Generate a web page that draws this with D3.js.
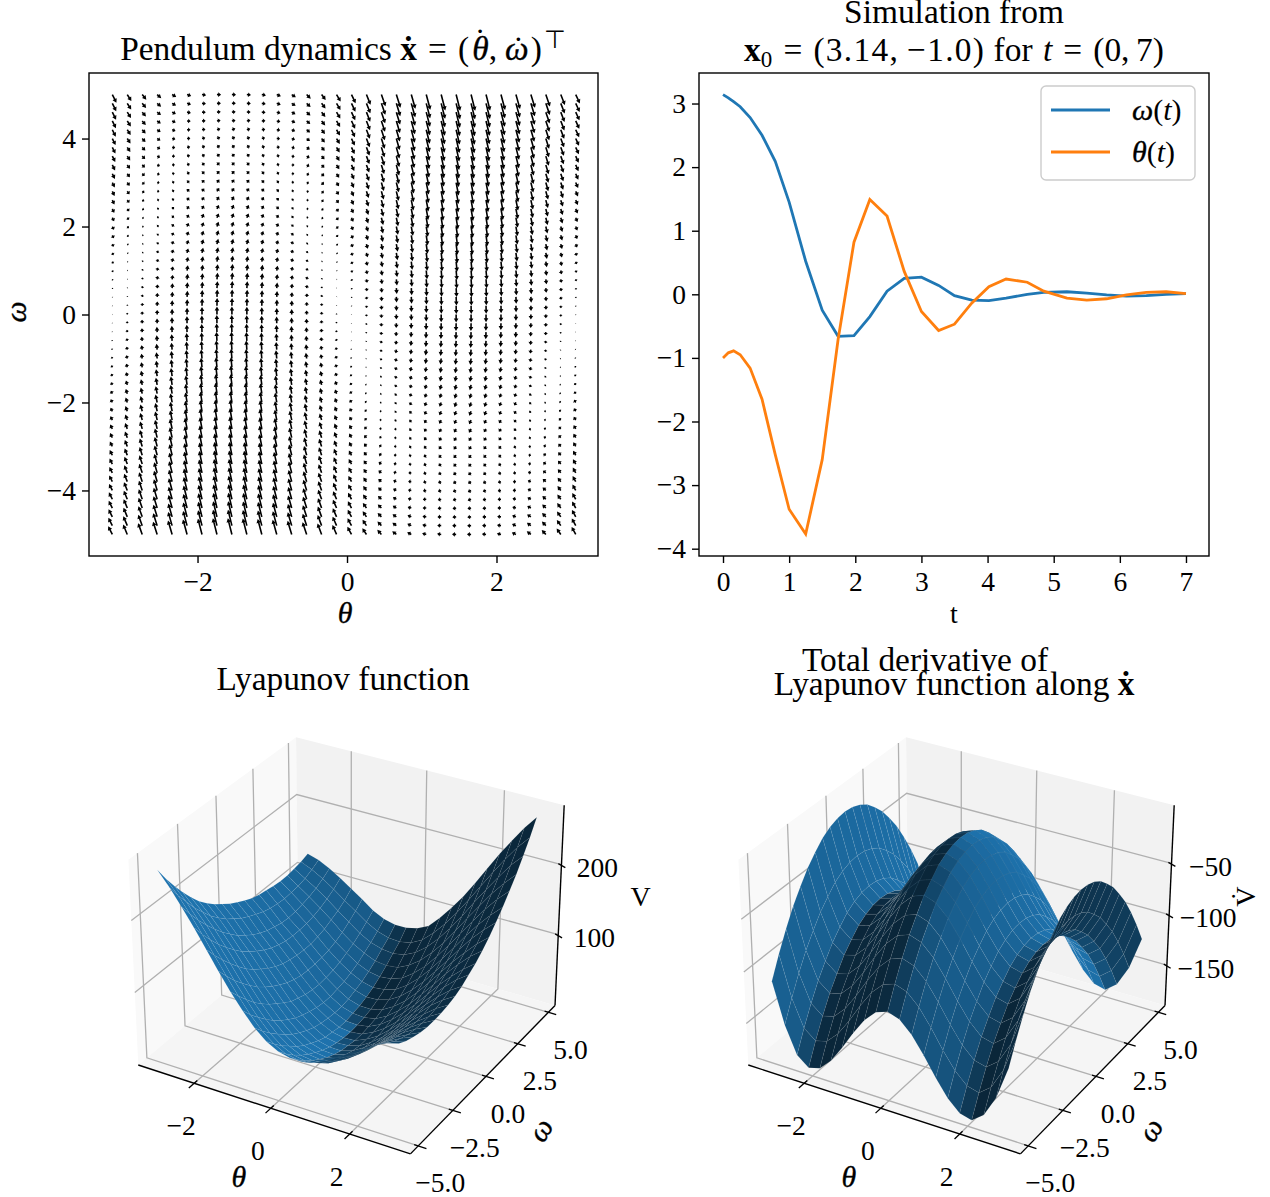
<!DOCTYPE html>
<html>
<head>
<meta charset="utf-8">
<script src="https://cdn.jsdelivr.net/npm/d3@7"></script>
<style>
    html, body { margin: 0; padding: 0; background: #fff; }
    svg { display: block; }
    text { font-family: "Liberation Serif", serif; fill: #000; }
    .axis text { font-size: 27.5px; font-family: "Liberation Serif", serif; }
    .axis path, .axis line { stroke: #000; stroke-width: 1.4px; }
    .math { font-style: italic; stroke: #000; stroke-width: 0.35px; }
</style>
</head>
<body>
<svg width="1270" height="1197"></svg>
<script>
// quiver grid
var quiverTheta = [-3.14,-2.94,-2.74,-2.54,-2.34,-2.14,-1.94,-1.74,-1.54,-1.34,-1.14,-0.94,-0.74,-0.54,-0.34,-0.14,0.06,0.26,0.46,0.66,0.86,1.06,1.26,1.46,1.66,1.86,2.06,2.26,2.46,2.66,2.86,3.06];
var quiverOmega = [5,4.8,4.6,4.4,4.2,4,3.8,3.6,3.4,3.2,3,2.8,2.6,2.4,2.2,2,1.8,1.6,1.4,1.2,1,0.8,0.6,0.4,0.2,0,-0.2,-0.4,-0.6,-0.8,-1,-1.2,-1.4,-1.6,-1.8,-2,-2.2,-2.4,-2.6,-2.8,-3,-3.2,-3.4,-3.6,-3.8,-4,-4.2,-4.4,-4.6,-4.8,-5];
var pullByTheta = [0,2,3.8,5.6,7,8.3,9.1,9.7,9.8,9.5,8.9,7.9,6.6,5,3.3,1.4,-0.6,-2.5,-4.4,-6,-7.4,-8.6,-9.3,-9.7,-9.8,-9.4,-8.7,-7.6,-6.2,-4.5,-2.7,-0.8];
var dragByOmega = [-10,-9.6,-9.2,-8.8,-8.4,-8,-7.6,-7.2,-6.8,-6.4,-6,-5.6,-5.2,-4.8,-4.4,-4,-3.6,-3.2,-2.8,-2.4,-2,-1.6,-1.2,-0.8,-0.4,0,0.4,0.8,1.2,1.6,2,2.4,2.8,3.2,3.6,4,4.4,4.8,5.2,5.6,6,6.4,6.8,7.2,7.6,8,8.4,8.8,9.2,9.6,10];

// simulation
var simT = [0,0.08,0.16,0.26,0.41,0.59,0.79,1,1.25,1.5,1.74,1.98,2.22,2.48,2.74,3,3.26,3.5,3.76,4.02,4.28,4.6,4.85,5.2,5.5,5.8,6.1,6.4,6.7,7];
var simOmega = [3.14,3.09,3.03,2.95,2.78,2.5,2.09,1.45,0.52,-0.25,-0.66,-0.65,-0.35,0.05,0.25,0.27,0.14,-0.02,-0.09,-0.1,-0.06,0,0.03,0.04,0.02,-0.01,-0.03,-0.02,0,0.01];
var simTheta = [-1,-0.92,-0.89,-0.95,-1.16,-1.65,-2.52,-3.38,-3.77,-2.6,-0.71,0.82,1.49,1.23,0.36,-0.27,-0.57,-0.47,-0.14,0.12,0.24,0.19,0.05,-0.06,-0.09,-0.07,-0.01,0.03,0.04,0.01];

// surface grids, rows go from omega -5 to 5, columns from theta -3 to 3
var gridTheta = [-3,-2.7,-2.4,-2.1,-1.8,-1.5,-1.2,-0.9,-0.6,-0.3,0,0.3,0.6,0.9,1.2,1.5,1.8,2.1,2.4,2.7,3];
var gridOmega = [-5,-4.5,-4,-3.5,-3,-2.5,-2,-1.5,-1,-0.5,0,0.5,1,1.5,2,2.5,3,3.5,4,4.5,5];
var lyapunovV = [
    [267,248,226,203,178,153,129,108,89,75,66,62,62,66,74,84,95,106,116,124,129],
    [247,229,208,185,161,137,114,93,75,62,53,50,51,56,64,75,86,98,109,117,123],
    [229,212,191,169,146,122,100,80,63,50,42,39,41,46,55,67,79,92,103,112,119],
    [212,195,176,154,132,109,87,68,52,40,32,30,32,39,48,60,74,87,99,108,116],
    [197,181,162,141,119,97,76,57,42,30,24,22,25,32,43,55,69,83,96,106,114],
    [183,167,149,129,107,86,66,48,33,22,17,15,19,27,38,51,66,81,94,105,114],
    [172,156,138,118,97,77,58,40,26,16,11,10,15,23,35,49,64,80,93,105,115],
    [162,146,127,109,89,69,50,33,20,10,6,6,11,21,33,48,64,80,94,107,117],
    [154,138,119,101,81,62,43,28,15,6,3,4,9,19,32,48,65,81,97,110,120],
    [146,130,111,94,75,56,39,24,12,4,1,2,9,19,33,49,67,84,100,114,125],
    [140,124,105,88,70,52,35,21,10,2,0,2,10,21,35,52,70,88,105,120,132],
    [134,119,100,84,67,49,33,19,9,2,1,4,12,24,39,56,75,94,111,126,139],
    [129,114,97,81,65,48,32,19,9,4,3,6,15,28,43,62,81,101,119,135,148],
    [126,111,94,80,64,48,33,21,11,6,6,10,20,33,50,69,89,109,127,144,158],
    [124,109,93,80,64,49,35,23,15,10,11,16,26,40,57,77,97,118,138,155,170],
    [122,108,94,81,66,51,38,27,19,15,17,22,33,48,66,86,107,129,149,167,183],
    [121,109,96,83,69,55,43,32,25,22,24,30,42,57,76,97,119,141,162,181,197],
    [121,110,99,87,74,60,48,39,32,30,32,40,52,68,87,109,132,154,176,195,212],
    [123,113,103,92,79,67,55,46,41,39,42,50,63,80,100,122,146,169,191,212,229],
    [125,118,109,98,86,75,63,54,49,48,51,60,75,93,114,137,161,185,208,229,247],
    [129,124,116,106,95,84,72,64,60,60,64,72,89,108,129,153,178,203,226,248,267]
];
var derivativeV = [
    [-110,-149,-175,-184,-181,-170,-154,-136,-120,-109,-105,-109,-120,-136,-154,-170,-181,-184,-175,-155,-123],
    [-90,-129,-155,-164,-161,-150,-134,-116,-100,-89,-85,-89,-100,-116,-134,-150,-161,-164,-155,-135,-103],
    [-72,-111,-137,-146,-143,-132,-116,-98,-82,-71,-67,-71,-82,-98,-116,-132,-143,-146,-137,-117,-85],
    [-56,-95,-121,-130,-127,-116,-100,-82,-66,-55,-51,-55,-66,-82,-100,-116,-127,-130,-121,-101,-69],
    [-43,-82,-108,-117,-114,-103,-87,-69,-53,-42,-38,-42,-53,-69,-87,-103,-114,-117,-108,-88,-56],
    [-31,-70,-96,-105,-102,-91,-75,-57,-41,-30,-26,-30,-41,-57,-75,-91,-102,-105,-96,-76,-44],
    [-22,-61,-87,-96,-93,-82,-66,-48,-32,-21,-17,-21,-32,-48,-66,-82,-93,-96,-87,-67,-35],
    [-14,-53,-79,-88,-85,-74,-58,-40,-24,-13,-9,-13,-24,-40,-58,-74,-85,-88,-79,-59,-27],
    [-9,-48,-74,-83,-80,-69,-53,-35,-19,-8,-4,-8,-19,-35,-53,-69,-80,-83,-74,-54,-22],
    [-6,-45,-71,-80,-77,-66,-50,-32,-16,-5,-1,-5,-16,-32,-50,-66,-77,-80,-71,-51,-19],
    [-5,-44,-70,-79,-76,-65,-49,-31,-15,-4,0,-4,-15,-31,-49,-65,-76,-79,-70,-50,-18],
    [-6,-45,-71,-80,-77,-66,-50,-32,-16,-5,-1,-5,-16,-32,-50,-66,-77,-80,-71,-51,-19],
    [-9,-48,-74,-83,-80,-69,-53,-35,-19,-8,-4,-8,-19,-35,-53,-69,-80,-83,-74,-54,-22],
    [-14,-53,-79,-88,-85,-74,-58,-40,-24,-13,-9,-13,-24,-40,-58,-74,-85,-88,-79,-59,-27],
    [-22,-61,-87,-96,-93,-82,-66,-48,-32,-21,-17,-21,-32,-48,-66,-82,-93,-96,-87,-67,-35],
    [-31,-70,-96,-105,-102,-91,-75,-57,-41,-30,-26,-30,-41,-57,-75,-91,-102,-105,-96,-76,-44],
    [-43,-82,-108,-117,-114,-103,-87,-69,-53,-42,-38,-42,-53,-69,-87,-103,-114,-117,-108,-88,-56],
    [-56,-95,-121,-130,-127,-116,-100,-82,-66,-55,-51,-55,-66,-82,-100,-116,-127,-130,-121,-101,-69],
    [-72,-111,-137,-146,-143,-132,-116,-98,-82,-71,-67,-71,-82,-98,-116,-132,-143,-146,-137,-117,-85],
    [-90,-129,-155,-164,-161,-150,-134,-116,-100,-89,-85,-89,-100,-116,-134,-150,-161,-164,-155,-135,-103],
    [-110,-149,-175,-184,-181,-170,-154,-136,-120,-109,-105,-109,-120,-136,-154,-170,-181,-184,-175,-155,-123]
];

var svg = d3.select("svg");
var minus = function (d, dec) {
    return (d < 0 ? "\u2212" : "") + Math.abs(d).toFixed(dec || 0);
};

function frame(g, w, h) {
    g.append("rect").attr("width", w).attr("height", h)
        .attr("fill", "none").attr("stroke", "#000").attr("stroke-width", 1.4);
}

function styleAxis(sel) {
    sel.attr("class", "axis");
    sel.select(".domain").remove();
}

// top left, quiver
function drawQuiver() {
    var w = 509, h = 483;
    var g = svg.append("g").attr("transform", "translate(89,73)");
    var x = d3.scaleLinear().domain([-3.452, 3.358]).range([0, w]);
    var y = d3.scaleLinear().domain([5.49, -5.49]).range([0, h]);
    var arrowLen = d3.scaleLinear().domain([0, 1]).range([0, 0.82]);

    quiverOmega.forEach(function (om, r) {
        quiverTheta.forEach(function (th, c) {
            var dx = arrowLen(om);
            var dy = -arrowLen(pullByTheta[c] + dragByOmega[r]);
            var len = Math.sqrt(dx * dx + dy * dy);
            if (len < 0.5) {
                dx = dx / (len || 1) * 0.5;
                dy = dy / (len || 1) * 0.5;
                len = 0.5;
            }
            var shaft = 0.8 * Math.min(1, len / 3 + 0.3);
            var headW = 2.3 * Math.min(1, len / 4 + 0.2);
            var headL = Math.min(4, len * 0.7);
            var a = Math.atan2(dy, dx) * 180 / Math.PI;
            g.append("path")
                .attr("transform", "translate(" + x(th) + "," + y(om) + ") rotate(" + a + ")")
                .attr("d", "M0," + (-shaft) + "L" + (len - headL) + "," + (-shaft) + "L" + (len - headL) + "," + (-headW)
                    + "L" + len + ",0L" + (len - headL) + "," + headW + "L" + (len - headL) + "," + shaft + "L0," + shaft + "Z")
                .attr("fill", "#000");
        });
    });

    frame(g, w, h);
    g.append("g").attr("transform", "translate(0," + h + ")")
        .call(d3.axisBottom(x).tickValues([-2, 0, 2]).tickSize(7).tickPadding(8).tickFormat(function (d) { return minus(d); }))
        .call(styleAxis);
    g.append("g")
        .call(d3.axisLeft(y).tickValues([-4, -2, 0, 2, 4]).tickSize(7).tickPadding(6).tickFormat(function (d) { return minus(d); }))
        .call(styleAxis);
}

// top right, simulation
function drawSimulation() {
    var w = 510, h = 483;
    var g = svg.append("g").attr("transform", "translate(699,73)");
    var x = d3.scaleLinear().domain([-0.363, 7.348]).range([0, w]);
    var y = d3.scaleLinear().domain([3.48, -4.115]).range([0, h]);
    var line = function (vals) {
        return d3.line().x(function (d, i) { return x(simT[i]); }).y(function (d) { return y(d); })(vals);
    };
    g.append("path").attr("d", line(simOmega)).attr("fill", "none").attr("stroke", "#1f77b4").attr("stroke-width", 2.8);
    g.append("path").attr("d", line(simTheta)).attr("fill", "none").attr("stroke", "#ff7f0e").attr("stroke-width", 2.8);

    frame(g, w, h);
    g.append("g").attr("transform", "translate(0," + h + ")")
        .call(d3.axisBottom(x).tickValues(d3.range(0, 8)).tickSize(7).tickPadding(8).tickFormat(function (d) { return minus(d); }))
        .call(styleAxis);
    g.append("g")
        .call(d3.axisLeft(y).tickValues(d3.range(-4, 4)).tickSize(7).tickPadding(6).tickFormat(function (d) { return minus(d); }))
        .call(styleAxis);

    // legend
    var lg = g.append("g").attr("transform", "translate(342,13)");
    lg.append("rect").attr("width", 154).attr("height", 94).attr("rx", 5)
        .attr("fill", "#fff").attr("fill-opacity", 0.8).attr("stroke", "#ccc").attr("stroke-width", 1.4);
    [["\u03c9", "#1f77b4", 24], ["\u03b8", "#ff7f0e", 66]].forEach(function (e) {
        lg.append("line").attr("x1", 10).attr("x2", 69).attr("y1", e[2]).attr("y2", e[2])
            .attr("stroke", e[1]).attr("stroke-width", 2.8);
        var t = lg.append("text").attr("x", 91).attr("y", e[2] + 10).attr("font-size", 30);
        t.append("tspan").attr("class", "math").text(e[0]);
        t.append("tspan").text("(");
        t.append("tspan").attr("font-style", "italic").text("t");
        t.append("tspan").text(")");
    });
}

// shared 3D box, same view as the default matplotlib one
function drawSurface(opts) {
    var el = 30 * Math.PI / 180, az = -60 * Math.PI / 180, dist = 10;
    var box = [1.19, 1.19, 0.893];
    var fw = [Math.cos(el) * Math.cos(az), Math.cos(el) * Math.sin(az), Math.sin(el)];
    var right = [-Math.sin(az), Math.cos(az), 0];
    var up = [-Math.sin(el) * Math.cos(az), -Math.sin(el) * Math.sin(az), Math.cos(el)];
    var dot = function (a, b) { return a[0] * b[0] + a[1] * b[1] + a[2] * b[2]; };

    var fracX = d3.scaleLinear().domain([-3.5, 3.5]).range([-0.5, 0.5]);
    var fracY = d3.scaleLinear().domain([-5.55, 5.55]).range([-0.5, 0.5]);
    var fracZ = d3.scaleLinear().domain(opts.zlim).range([-0.5, 0.5]);
    var sx = d3.scaleLinear().domain([-0.1, 0.1]).range([opts.cx - 262, opts.cx + 262]);
    var sy = d3.scaleLinear().domain([-0.1, 0.1]).range([935.6 + 262, 935.6 - 262]);

    function proj(th, om, z) {
        var p = [fracX(th) * box[0], fracY(om) * box[1], fracZ(z) * box[2]];
        var depth = dist - dot(p, fw);
        return [sx(dot(p, right) / depth), sy(dot(p, up) / depth), depth];
    }
    var pathOf = function (pts) {
        return "M" + pts.map(function (p) { return p[0].toFixed(2) + "," + p[1].toFixed(2); }).join("L") + "Z";
    };
    var x0 = -3.5, x1 = 3.5, y0 = -5.55, y1 = 5.55, z0 = opts.zlim[0], z1 = opts.zlim[1];
    var g = svg.append("g");

    // panes
    g.append("path").attr("fill", "#f9f9f9").attr("d", pathOf([proj(x0, y0, z0), proj(x0, y1, z0), proj(x0, y1, z1), proj(x0, y0, z1)]));
    g.append("path").attr("fill", "#f2f2f2").attr("d", pathOf([proj(x0, y1, z0), proj(x1, y1, z0), proj(x1, y1, z1), proj(x0, y1, z1)]));
    g.append("path").attr("fill", "#f5f5f5").attr("d", pathOf([proj(x0, y0, z0), proj(x1, y0, z0), proj(x1, y1, z0), proj(x0, y1, z0)]));

    // grid lines
    var gridLine = function (pts) {
        g.append("polyline").attr("points", pts.map(function (p) { return p[0] + "," + p[1]; }).join(" "))
            .attr("fill", "none").attr("stroke", "#b0b0b0").attr("stroke-width", 1.3);
    };
    opts.thetaTicks.forEach(function (t) { gridLine([proj(t, y0, z0), proj(t, y1, z0), proj(t, y1, z1)]); });
    opts.omegaTicks.forEach(function (t) { gridLine([proj(x1, t, z0), proj(x0, t, z0), proj(x0, t, z1)]); });
    opts.zTicks.forEach(function (t) { gridLine([proj(x0, y0, t), proj(x0, y1, t), proj(x1, y1, t)]); });

    // axis lines
    [[proj(x0, y0, z0), proj(x1, y0, z0)], [proj(x1, y0, z0), proj(x1, y1, z0)], [proj(x1, y1, z0), proj(x1, y1, z1)]].forEach(function (s) {
        g.append("line").attr("x1", s[0][0]).attr("y1", s[0][1]).attr("x2", s[1][0]).attr("y2", s[1][1])
            .attr("stroke", "#000").attr("stroke-width", 1.4);
    });

    // tick marks and labels
    var tick = function (a, b) {
        g.append("line").attr("x1", a[0]).attr("y1", a[1]).attr("x2", b[0]).attr("y2", b[1])
            .attr("stroke", "#000").attr("stroke-width", 1.3);
    };
    var label = function (px, py, txt) {
        g.append("text").attr("x", px).attr("y", py).attr("dy", "0.35em")
            .attr("text-anchor", "middle").attr("font-size", 27.5).text(txt);
    };
    opts.thetaTicks.forEach(function (t) {
        var a = proj(t, y0, z0);
        tick(proj(t, y0 + 0.2, z0), proj(t, y0 - 0.35, z0));
        label(a[0] - 13, a[1] + 42.5, minus(t));
    });
    opts.omegaTicks.forEach(function (t) {
        var a = proj(x1, t, z0);
        tick(proj(x1 - 0.1, t, z0), proj(x1 + 0.2, t, z0));
        label(a[0] + 22, a[1] + 37, minus(t, 1));
    });
    opts.zTicks.forEach(function (t) {
        var a = proj(x1, y1, t);
        tick(proj(x1 - 0.08, y1, t), proj(x1 + 0.14, y1 - 0.14, t));
        label(a[0] + opts.zLabelDx, a[1] + 3, minus(t));
    });

    // surface quads, far ones first
    var quads = [];
    var dth = gridTheta, dom = gridOmega, zz = opts.grid;
    for (var r = 0; r < dom.length - 1; r++) {
        for (var c = 0; c < dth.length - 1; c++) {
            var pts = [proj(dth[c], dom[r], zz[r][c]), proj(dth[c + 1], dom[r], zz[r][c + 1]),
                proj(dth[c + 1], dom[r + 1], zz[r + 1][c + 1]), proj(dth[c], dom[r + 1], zz[r + 1][c])];
            var zth = (zz[r][c + 1] + zz[r + 1][c + 1] - zz[r][c] - zz[r + 1][c]) / (2 * (dth[c + 1] - dth[c]));
            var zom = (zz[r + 1][c] + zz[r + 1][c + 1] - zz[r][c] - zz[r][c + 1]) / (2 * (dom[r + 1] - dom[r]));
            var shade = (-0.6667 * zth - 0.6667 * zom - 0.3333) / Math.sqrt(zth * zth + zom * zom + 1);
            var k = 0.65 + 0.35 * shade;
            quads.push({
                pts: pts,
                depth: d3.mean(pts, function (p) { return p[2]; }),
                col: d3.rgb(31 * k, 119 * k, 180 * k).toString()
            });
        }
    }
    quads.sort(function (a, b) { return b.depth - a.depth; });
    g.selectAll(".quad").data(quads).enter().append("path")
        .attr("class", "quad")
        .attr("d", function (d) { return pathOf(d.pts); })
        .attr("fill", function (d) { return d.col; })
        .attr("stroke", "#ffffff").attr("stroke-opacity", 0.14).attr("stroke-width", 0.35);

    // axis names
    var a = proj(0, y0, z0);
    g.append("text").attr("class", "math").attr("x", a[0] - 32).attr("y", a[1] + 68).attr("dy", "0.35em").attr("text-anchor", "middle")
        .attr("font-size", 30).text("\u03b8");
    a = proj(x1, 0, z0);
    g.append("text").attr("class", "math").attr("transform", "translate(" + (a[0] + 54) + "," + (a[1] + 53) + ") rotate(-58)")
        .attr("dy", "0.35em").attr("text-anchor", "middle")
        .attr("font-size", 30).text("\u03c9");
    a = proj(x1, y1, (z0 + z1) / 2);
    g.append("text").attr("transform", "translate(" + (a[0] + opts.zNameDx) + "," + (a[1] - 11) + ") rotate(" + opts.zNameRot + ")")
        .attr("dy", "0.35em").attr("text-anchor", "middle").attr("font-size", 28).text(opts.zName);
}

function title(x, y, parts) {
    var t = svg.append("text").attr("x", x).attr("y", y).attr("text-anchor", "middle").attr("font-size", 33.4);
    parts.forEach(function (p) {
        var s = t.append("tspan").text(p[0]);
        if (p[1] == "b") s.attr("font-weight", "bold");
        if (p[1] == "i") s.attr("font-style", "italic");
        if (p[1] == "m") s.attr("class", "math");
        if (p[1] == "sub") s.attr("font-size", 23).attr("dy", 6);
        if (p[1] == "up") s.attr("dy", -6);
        if (p[1] == "sup") s.attr("font-size", 25).attr("dy", -12);
        if (p[1] == "wide") s.attr("letter-spacing", 1.3);
        if (p[2] !== undefined) s.attr("dx", p[2]);
        if (p[3] !== undefined) s.attr("dy", p[3]);
    });
}

drawQuiver();
drawSimulation();

svg.append("text").attr("class", "math").attr("x", 345).attr("y", 623).attr("text-anchor", "middle").attr("font-size", 30).text("\u03b8");
svg.append("text").attr("class", "math").attr("transform", "translate(26,312) rotate(-90)").attr("text-anchor", "middle").attr("font-size", 30).text("\u03c9");
svg.append("text").attr("x", 954).attr("y", 623).attr("text-anchor", "middle").attr("font-size", 28).text("t");

drawSurface({
    grid: lyapunovV, zlim: [-4, 282], cx: 350.5,
    thetaTicks: [-2, 0, 2], omegaTicks: [-5, -2.5, 0, 2.5, 5], zTicks: [100, 200],
    zLabelDx: 36, zNameDx: 81, zNameRot: 0, zName: "V"
});
drawSurface({
    grid: derivativeV, zlim: [-191, 5], cx: 960.5,
    thetaTicks: [-2, 0, 2], omegaTicks: [-5, -2.5, 0, 2.5, 5], zTicks: [-150, -100, -50],
    zLabelDx: 39, zNameDx: 76, zNameRot: -90, zName: "V\u0307"
});

var gap = "\u2004";
title(343, 60, [["Pendulum dynamics "], ["x\u0307", "b"], [gap + "=" + gap + "("], ["\u03b8", "m", 3], ["\u02d9", "", -14, -8], [",", "", 3, 8], ["\u03c9", "m", 8], ["\u02d9", "", -16], [")", "", 7], ["\u22a4", "sup", 2]]);
title(954, 23, [["Simulation from"]]);
title(954, 61, [["x", "b"], ["0", "sub"], [gap + "=" + gap, "up"], ["(3.14,\u2009\u22121.0)", "wide"], [" for "], ["t", "i", 2], [gap + "=" + gap + "(0,\u20097)"]]);
title(343, 690, [["Lyapunov function"]]);
title(925, 671, [["Total derivative of"]]);
title(954, 695, [["Lyapunov function along "], ["x\u0307", "b"]]);
</script>
</body>
</html>
